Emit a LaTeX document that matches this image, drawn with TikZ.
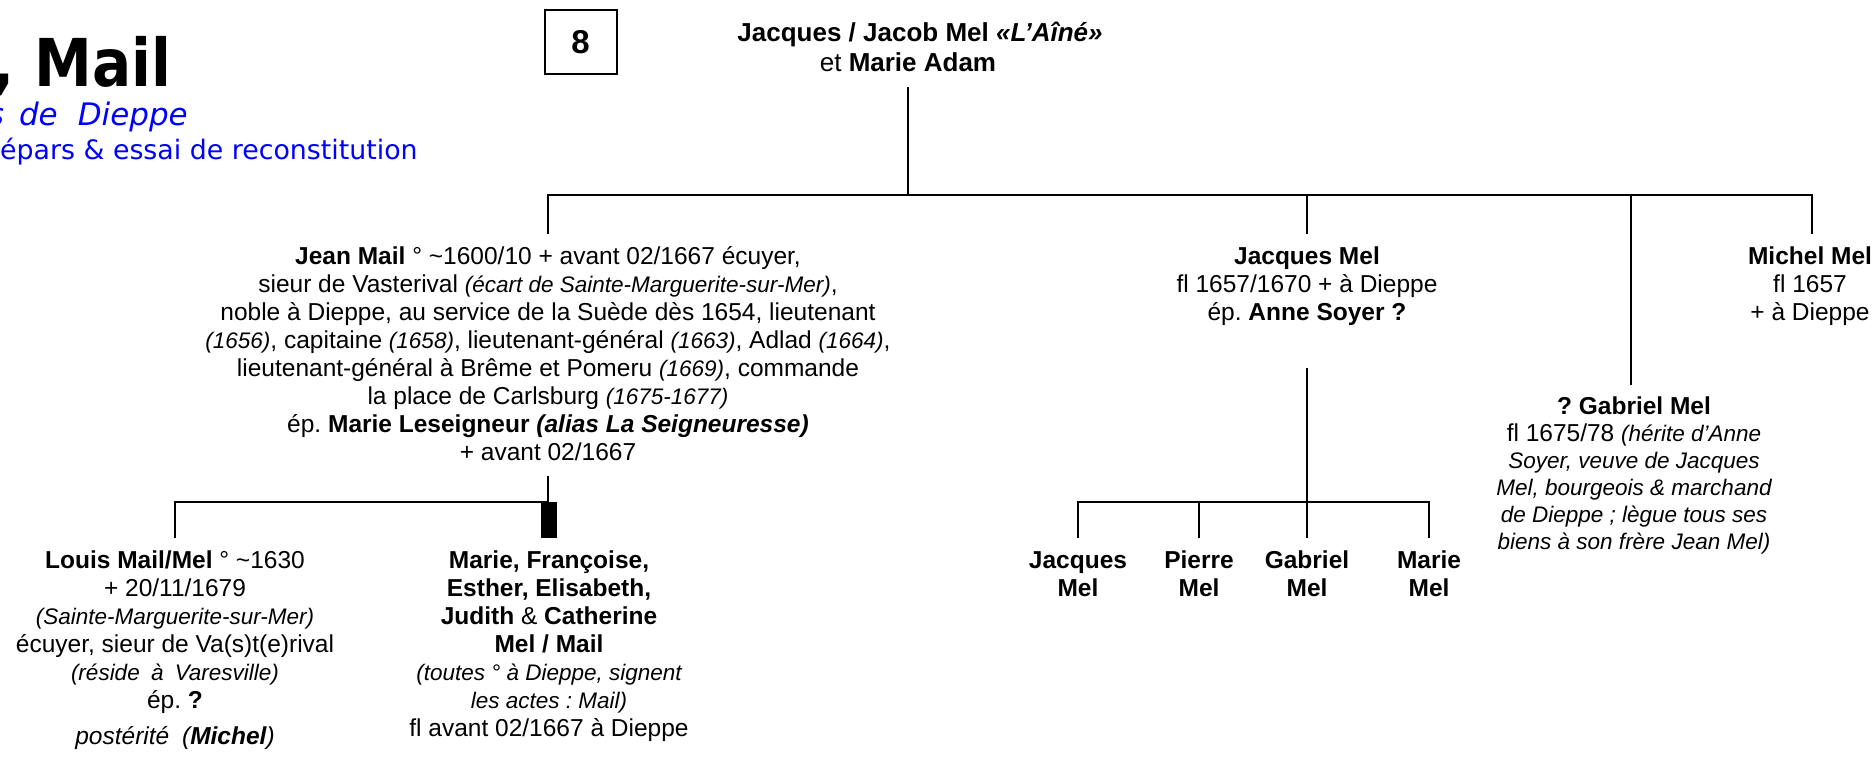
\documentclass[tikz,border=0pt]{standalone}
\usepackage{fontspec}
\setmainfont{Liberation Sans}[Ligatures=NoCommon]
\newfontfamily\dejavu{DejaVu Sans}
\newfontfamily\titlefont{DejaVu Sans}[FakeStretch=0.88]
\definecolor{tblue}{RGB}{0,0,255}
\newcommand\itp[1]{{\fontsize{22.5}{28}\selectfont\itshape #1}}
\tikzset{
  person/.style={inner sep=0pt, outer sep=0pt, align=center, anchor=north, font=\fontsize{24.5}{28}\selectfont},
  link/.style={line width=2.5pt},
}
\frenchspacing
\begin{document}
\begin{tikzpicture}[x=1pt,y=-1pt]
\useasboundingbox (0,0) rectangle (1874,760);
% title
\node[anchor=base east, inner sep=0pt, font=\titlefont\bfseries\fontsize{66}{66}\selectfont] (title) at (172,87) {, Mail};
\node[anchor=base east, inner sep=0pt, text=tblue, font=\dejavu\itshape\fontsize{31}{31}\selectfont] (sub1) at (188,125) {s\hspace{15pt}de\hspace{20pt}Dieppe};
\node[anchor=base west, inner sep=0pt, text=tblue, font=\dejavu\fontsize{26.8}{26.8}\selectfont] (sub2) at (0,159) {épars \& essai de reconstitution};
% box 8
\node[draw, line width=2pt, minimum width=72pt, minimum height=64pt, inner sep=0pt, font=\bfseries\fontsize{33}{34}\selectfont] (box8) at (580.5,42) {8};
% persons
\node[person, font=\fontsize{26}{30}\selectfont] (top) at (908,20) {\strut\hspace*{24pt}\textbf{Jacques / Jacob Mel \textit{«L’Aîné»}}\\et \textbf{Marie Adam}};
\node[person] (jean) at (548,244.4) {\strut\textbf{Jean Mail} ° \textasciitilde1600/10 + avant 02/1667 écuyer,\\
sieur de Vasterival \itp{(écart de Sainte-Marguerite-sur-Mer)},\\
noble à Dieppe, au service de la Suède dès 1654, lieutenant\\
\itp{(1656)}, capitaine \itp{(1658)}, lieutenant-général \itp{(1663)}, Adlad \itp{(1664)},\\
lieutenant-général à Brême et Pomeru \itp{(1669)}, commande\\
la place de Carlsburg \itp{(1675-1677)}\\
ép. \textbf{Marie Leseigneur \textit{(alias La Seigneuresse)}}\\
+ avant 02/1667};
\node[person] (jacques) at (1307,244.4) {\strut\textbf{Jacques Mel}\\fl 1657/1670 + à Dieppe\\ép. \textbf{Anne Soyer ?}};
\node[person] (michel) at (1810,244.4) {\strut\textbf{Michel Mel}\\fl 1657\\+ à Dieppe};
\node[person, font=\fontsize{24.5}{27}\selectfont] (gabriel) at (1634,395.4) {\strut\textbf{? Gabriel Mel}\\
fl 1675/78 \itp{(hérite d’Anne}\\
\itp{Soyer, veuve de Jacques}\\
\itp{Mel, bourgeois \& marchand}\\
\itp{de Dieppe ; lègue tous ses}\\
\itp{biens à son frère Jean Mel)}};
\node[person] (louis) at (175,548.4) {\strut\textbf{Louis Mail/Mel} ° \textasciitilde1630\\
+ 20/11/1679\\
\itp{(Sainte-Marguerite-sur-Mer)}\\
écuyer, sieur de Va(s)t(e)rival\\
\itp{(réside\hspace{5pt} à\hspace{5pt} Varesville)}\\
ép. \textbf{?}\\[8pt]
\textit{postérité\hspace{6pt} (\textbf{Michel})}};
\node[person] (sisters) at (549,548.4) {\strut\textbf{Marie, Françoise,}\\
\textbf{Esther, Elisabeth,}\\
\textbf{Judith} \& \textbf{Catherine}\\
\textbf{Mel / Mail}\\
\itp{(toutes ° à Dieppe, signent}\\
\itp{les actes : Mail)}\\
fl avant 02/1667 à Dieppe};
\node[person] (k1) at (1078,548.4) {\strut\textbf{Jacques}\\\textbf{Mel}};
\node[person] (k2) at (1199,548.4) {\strut\textbf{Pierre}\\\textbf{Mel}};
\node[person] (k3) at (1307,548.4) {\strut\textbf{Gabriel}\\\textbf{Mel}};
\node[person] (k4) at (1429,548.4) {\strut\textbf{Marie}\\\textbf{Mel}};
% connectors
\coordinate (topstem) at (908,87);
\coordinate (bar) at (908,195);
\coordinate (jeanIn) at (548,234);
\coordinate (jacqIn) at (1307,234);
\coordinate (gabIn) at (1631,385);
\coordinate (michIn) at (1812,234);
\draw[link] (topstem) -- (bar);
\draw[link] (jeanIn) -- (jeanIn |- bar) -- (michIn |- bar) -- (michIn);
\draw[link] (jacqIn) -- (jacqIn |- bar);
\draw[link] (gabIn) -- (gabIn |- bar);
\coordinate (jeanOut) at (548,476);
\coordinate (bar2) at (548,502);
\coordinate (louisIn) at (175,538);
\draw[link] (jeanOut) -- (bar2) -- (louisIn |- bar2) -- (louisIn);
\node[fill=black, minimum width=16pt, minimum height=36pt, inner sep=0pt, anchor=north] (sismark) at (549,502) {};
\coordinate (jacqOut) at (1307,368);
\coordinate (bar3) at (1307,502);
\coordinate (k1In) at (1078,538);
\coordinate (k2In) at (1199,538);
\coordinate (k3In) at (1307,538);
\coordinate (k4In) at (1429,538);
\draw[link] (jacqOut) -- (k3In);
\draw[link] (k1In) -- (k1In |- bar3) -- (k4In |- bar3) -- (k4In);
\draw[link] (k2In) -- (k2In |- bar3);
\end{tikzpicture}
\end{document}
